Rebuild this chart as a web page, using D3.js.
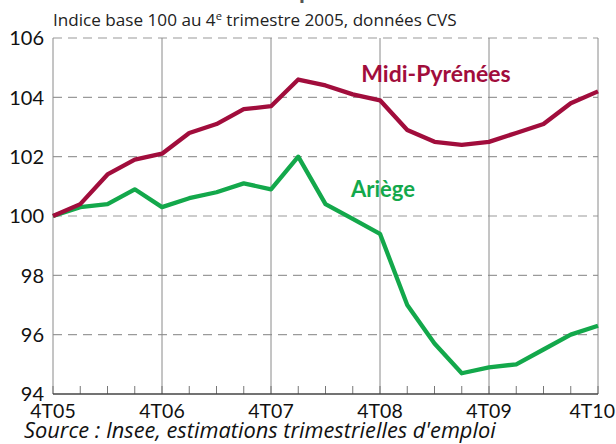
<!DOCTYPE html>
<html>
<head>
<meta charset="utf-8">
<script src="https://cdn.jsdelivr.net/npm/d3@7"></script>
<style>
  body { margin: 0; background: #fff; }
  svg { display: block; font-family: Lato, "Open Sans", sans-serif; }
</style>
</head>
<body>
<div id="chart"></div>
<script>
// quarters, from 4th quarter 2005 to 4th quarter 2010
const quarters = ["4T05","1T06","2T06","3T06","4T06","1T07","2T07","3T07","4T07",
                  "1T08","2T08","3T08","4T08","1T09","2T09","3T09","4T09",
                  "1T10","2T10","3T10","4T10"];
const midiPyrenees = [100, 100.4, 101.4, 101.9, 102.1, 102.8, 103.1, 103.6, 103.7,
                      104.6, 104.4, 104.1, 103.9, 102.9, 102.5, 102.4, 102.5,
                      102.8, 103.1, 103.8, 104.2];
const ariege = [100, 100.3, 100.4, 100.9, 100.3, 100.6, 100.8, 101.1, 100.9,
                102.0, 100.4, 99.9, 99.4, 97.0, 95.7, 94.7, 94.9,
                95.0, 95.5, 96.0, 96.3];
const yTicks = [94, 96, 98, 100, 102, 104, 106];
const yearLabels = ["4T05","4T06","4T07","4T08","4T09","4T10"];

const width = 616, height = 444;
const margin = {top: 38, right: 18, bottom: 50, left: 53};

const svg = d3.select('#chart').append('svg')
    .attr('width', width)
    .attr('height', height);

const x = d3.scalePoint()
    .domain(quarters)
    .range([margin.left, width - margin.right]);
const y = d3.scaleLinear()
    .domain([94, 106])
    .range([height - margin.bottom, margin.top]);

// scale a text's font size so it spans the wanted width
function fitWidth(sel, target) {
    const fs = parseFloat(sel.attr('font-size'));
    const w = sel.node().getComputedTextLength();
    if (w > 0) sel.attr('font-size', (fs * target / w).toFixed(2));
}

// title (cut off at the top of the picture)
svg.append('text')
    .attr('x', 320)
    .attr('y', -1)
    .attr('text-anchor', 'middle')
    .attr('font-size', 24)
    .attr('font-weight', 'bold')
    .attr('fill', '#555')
    .text("Évolution de l'emploi salarié marchand");

// subtitle
const sub = svg.append('text')
    .attr('x', margin.left)
    .attr('y', 26)
    .attr('font-family', '"Open Sans", sans-serif')
    .attr('font-size', 15)
    .attr('fill', '#222');
sub.append('tspan').text('Indice base 100 au 4');
sub.append('tspan').attr('font-size', '0.65em').attr('dy', -6).text('e');
sub.append('tspan').attr('dy', 6).text(' trimestre 2005, données CVS');
fitWidth(sub, 404);

// horizontal dashed grid
svg.append('g')
  .selectAll('line')
  .data(yTicks.filter(d => d > 94))
  .enter().append('line')
    .attr('x1', margin.left)
    .attr('x2', width - margin.right)
    .attr('y1', d => y(d))
    .attr('y2', d => y(d))
    .attr('stroke', '#9a9a9a')
    .attr('stroke-width', 1.2)
    .attr('stroke-dasharray', '9,6');

// vertical year lines
svg.append('g')
  .selectAll('line')
  .data(yearLabels)
  .enter().append('line')
    .attr('x1', d => x(d))
    .attr('x2', d => x(d))
    .attr('y1', y(106))
    .attr('y2', y(94))
    .attr('stroke', '#8a8a8a')
    .attr('stroke-width', 1);

// minor quarter ticks
svg.append('g')
  .selectAll('line')
  .data(quarters)
  .enter().append('line')
    .attr('x1', d => x(d))
    .attr('x2', d => x(d))
    .attr('y1', y(94))
    .attr('y2', y(94) - 8)
    .attr('stroke', '#777')
    .attr('stroke-width', 1);

// bottom axis line
svg.append('line')
    .attr('x1', margin.left)
    .attr('x2', width - margin.right)
    .attr('y1', y(94))
    .attr('y2', y(94))
    .attr('stroke', '#444')
    .attr('stroke-width', 1.5);

// y labels
svg.append('g')
  .selectAll('text')
  .data(yTicks)
  .enter().append('text')
    .attr('x', 44)
    .attr('y', d => y(d))
    .attr('dy', '0.36em')
    .attr('text-anchor', 'end')
    .attr('font-size', 20)
    .attr('fill', '#111')
    .text(d => d);

// x labels (the last one is pulled in to stay inside the picture)
svg.append('g')
  .selectAll('text')
  .data(yearLabels)
  .enter().append('text')
    .attr('x', (d, i) => i === yearLabels.length - 1 ? width - 1 : x(d))
    .attr('y', 418)
    .attr('text-anchor', (d, i) => i === yearLabels.length - 1 ? 'end' : 'middle')
    .attr('font-size', 19.5)
    .attr('fill', '#111')
    .text(d => d);

// lines
const line = d3.line()
    .x((d, i) => x(quarters[i]))
    .y(d => y(d));

svg.append('path')
    .datum(ariege)
    .attr('fill', 'none')
    .attr('stroke', '#13a84b')
    .attr('stroke-width', 4.3)
    .attr('stroke-linejoin', 'round')
    .attr('d', line);

svg.append('path')
    .datum(midiPyrenees)
    .attr('fill', 'none')
    .attr('stroke', '#a10d3c')
    .attr('stroke-width', 4.3)
    .attr('stroke-linejoin', 'round')
    .attr('d', line);

// series labels
svg.append('text')
    .attr('x', 436)
    .attr('y', 82)
    .attr('text-anchor', 'middle')
    .attr('font-size', 23)
    .attr('font-weight', 'bold')
    .attr('fill', '#a10d3c')
    .text('Midi-Pyrénées');

svg.append('text')
    .attr('x', 383)
    .attr('y', 197)
    .attr('text-anchor', 'middle')
    .attr('font-size', 22)
    .attr('font-weight', 'bold')
    .attr('fill', '#13a84b')
    .text('Ariège');

// source
const src = svg.append('text')
    .attr('x', 24)
    .attr('y', 438)
    .attr('font-family', '"Open Sans", sans-serif')
    .attr('font-size', 17)
    .attr('font-style', 'italic')
    .attr('fill', '#111')
    .text("Source : Insee, estimations trimestrielles d'emploi");
fitWidth(src, 472);
</script>
</body>
</html>
